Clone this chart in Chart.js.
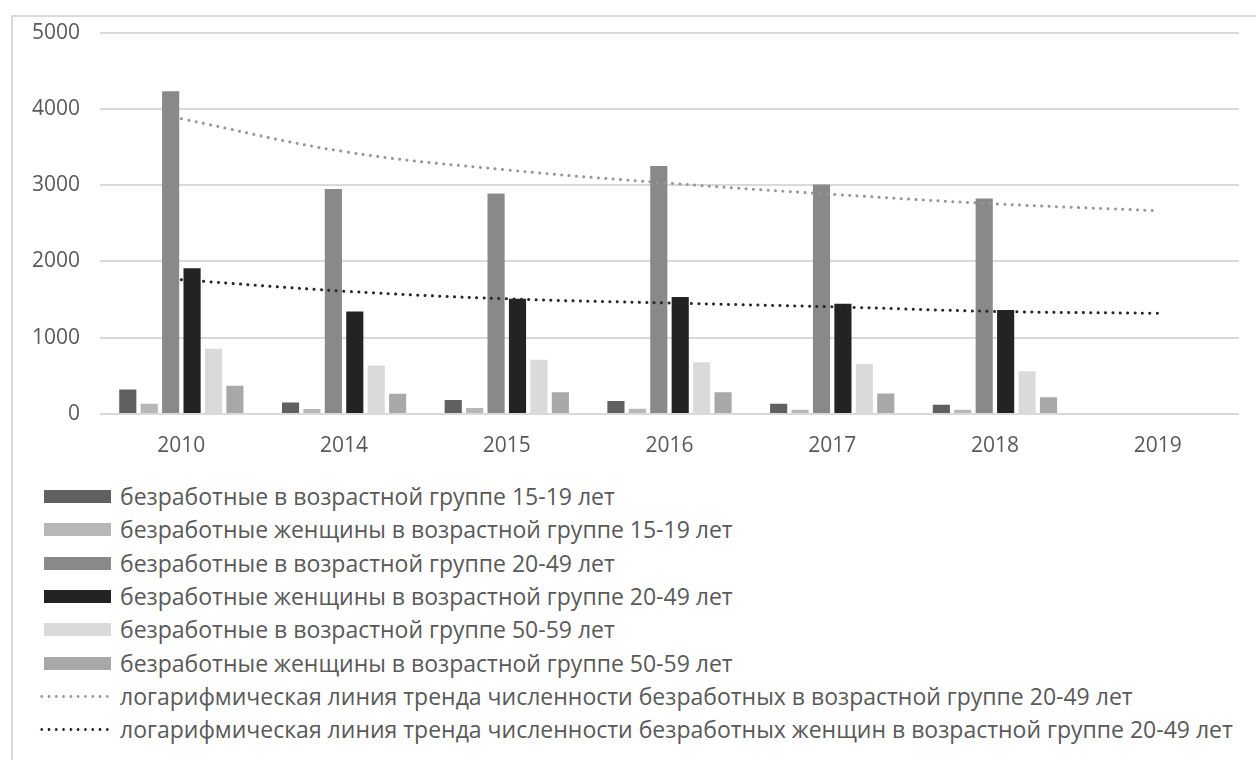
<!DOCTYPE html>
<html>
<head>
<meta charset="utf-8">
<script src="https://cdn.jsdelivr.net/npm/chart.js@4.4.1/dist/chart.umd.min.js"></script>
<style>
    html, body { margin: 0; padding: 0; background: #fff; }
    body { width: 1256px; height: 760px; position: relative; overflow: hidden; font-family: "Open Sans", sans-serif; }
    #frame { position: absolute; left: 11px; top: 15px; right: -4px; bottom: -4px; border-top: 2px solid #d9d9d9; border-left: 2px solid #d9d9d9; }
    #chartBox { position: absolute; left: 0; top: 0; width: 1256px; height: 475px; }
    #legend { position: absolute; left: 44px; top: 480px; }
    .legend-item { position: absolute; left: 0; height: 33px; width: 1200px; }
    .legend-swatch { position: absolute; left: 0; top: 10px; width: 67px; height: 13px; }
    .legend-dots { position: absolute; left: -6px; top: 14px; width: 73px; height: 5px; }
    .legend-text { position: absolute; left: 76px; top: 0; font-size: 23px; color: #595959; white-space: nowrap; line-height: 33px; }
</style>
</head>
<body>
<div id="frame"></div>
<div id="chartBox"><canvas id="mainChart"></canvas></div>
<div id="legend"></div>
<script>
// Categories
const years = ['2010', '2014', '2015', '2016', '2017', '2018', '2019'];

// Bar series (2019 has no data)
const unemployed15_19 = [320, 150, 185, 170, 135, 120, null];
const women15_19 = [135, 65, 80, 70, 55, 55, null];
const unemployed20_49 = [4230, 2950, 2890, 3250, 3010, 2825, null];
const women20_49 = [1910, 1345, 1510, 1535, 1445, 1365, null];
const unemployed50_59 = [855, 635, 710, 680, 655, 560, null];
const women50_59 = [370, 265, 285, 285, 270, 220, null];

// Trend lines
const trend20_49 = [3870, 3440, 3200, 3025, 2880, 2755, 2665];
const trendWomen20_49 = [1760, 1610, 1510, 1455, 1405, 1345, 1320];

// Legend labels
const seriesLabels = [
    'безработные в возрастной группе 15-19 лет',
    'безработные женщины в возрастной группе 15-19 лет',
    'безработные в возрастной группе 20-49 лет',
    'безработные женщины в возрастной группе 20-49 лет',
    'безработные в возрастной группе 50-59 лет',
    'безработные женщины в возрастной группе 50-59 лет',
    'логарифмическая линия тренда численности безработных в возрастной группе 20-49 лет',
    'логарифмическая линия тренда численности безработных женщин в возрастной группе 20-49 лет'
];

const barColors = ['#606060', '#b7b7b7', '#898989', '#232323', '#dadada', '#a8a8a8'];
const trendColors = ['#979797', '#262626'];

const barSeries = [unemployed15_19, women15_19, unemployed20_49, women20_49, unemployed50_59, women50_59];
const trendSeries = [trend20_49, trendWomen20_49];

const datasets = [];
barSeries.forEach((values, i) => {
    datasets.push({
        type: 'bar',
        label: seriesLabels[i],
        data: values,
        backgroundColor: barColors[i],
        borderWidth: 0,
        categoryPercentage: 0.79,
        barPercentage: 0.8,
        order: 1
    });
});
trendSeries.forEach((values, i) => {
    datasets.push({
        type: 'line',
        label: seriesLabels[6 + i],
        data: values,
        borderColor: trendColors[i],
        borderWidth: 3,
        borderDash: [0.1, 7.3],
        borderCapStyle: 'round',
        pointRadius: 0,
        fill: false,
        tension: 0.4,
        order: 0
    });
});

const tickFont = { family: 'Open Sans', size: 21 };

const ctx = document.getElementById('mainChart').getContext('2d');
new Chart(ctx, {
    type: 'bar',
    data: { labels: years, datasets: datasets },
    options: {
        responsive: true,
        maintainAspectRatio: false,
        animation: false,
        layout: { padding: { top: 32, right: 17, left: 0, bottom: 0 } },
        plugins: {
            legend: { display: false },
            tooltip: { enabled: false }
        },
        scales: {
            x: {
                grid: { display: false, drawTicks: false },
                border: { display: false },
                ticks: { color: '#595959', font: tickFont, padding: 19, maxRotation: 0 },
                afterFit: (scale) => { scale.height = 61; }
            },
            y: {
                min: 0,
                max: 5000,
                grid: { color: '#d9d9d9', lineWidth: 2, drawTicks: false },
                border: { display: false },
                ticks: {
                    stepSize: 1000,
                    color: '#595959',
                    font: tickFont,
                    padding: 20,
                    callback: (value) => String(value)
                },
                afterFit: (scale) => { scale.width = 100; }
            }
        }
    }
});

// HTML legend, one entry per row
const legend = document.getElementById('legend');
seriesLabels.forEach((label, i) => {
    const item = document.createElement('div');
    item.className = 'legend-item';
    item.style.top = (i * 33.3) + 'px';
    let marker;
    if (i < 6) {
        marker = `<div class="legend-swatch" style="background:${barColors[i]}"></div>`;
    } else {
        const c = trendColors[i - 6];
        marker = `<div class="legend-dots" style="background: radial-gradient(circle, ${c} 1.1px, transparent 1.6px) 0 0 / 7.3px 5px repeat-x;"></div>`;
    }
    item.innerHTML = marker + `<span class="legend-text">${label}</span>`;
    legend.appendChild(item);
});
</script>
</body>
</html>
